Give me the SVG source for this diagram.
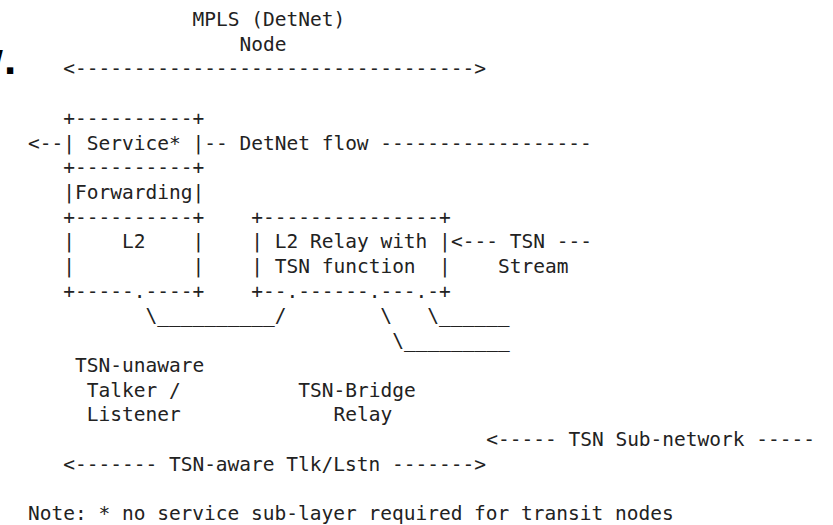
<svg xmlns="http://www.w3.org/2000/svg" width="833" height="525" viewBox="0 0 833 525" xml:space="preserve">
<style>
.t{font-family:"DejaVu Sans Mono","Liberation Mono",monospace;font-size:19.5px;fill:#222;white-space:pre}
.h{font-family:"Liberation Sans",Arial,sans-serif;font-size:44px;font-weight:bold;fill:#000}
</style>
<rect width="833" height="525" fill="#fff"/>
<text class="h" x="-31.5" y="74">w<tspan dx="3">.</tspan></text>
<g id="labels">
<text class="t" x="192.5" y="26">MPLS (DetNet)</text>
<text class="t" x="239.5" y="50.7">Node</text>
<text class="t" x="498" y="273">Stream</text>
<text class="t" x="75" y="371.8">TSN-unaware</text>
<text class="t" x="86.75" y="396.5">Talker /</text>
<text class="t" x="298.25" y="396.5">TSN-Bridge</text>
<text class="t" x="86.75" y="421.2">Listener</text>
<text class="t" x="333.5" y="421.2">Relay</text>
<text class="t" x="28" y="520">Note: * no service sub-layer required for transit nodes</text>
</g>
<g id="node-detnet-stack">
<text class="t" x="63.25" y="124.8">+----------+</text>
<text class="t" x="63.25" y="149.5">| Service* |</text>
<text class="t" x="63.25" y="174.2">+----------+</text>
<text class="t" x="63.25" y="198.9">|Forwarding|</text>
<text class="t" x="63.25" y="223.6">+----------+</text>
<text class="t" x="63.25" y="248.3">|    L2    |</text>
<text class="t" x="63.25" y="273">|          |</text>
<text class="t" x="63.25" y="297.7">+-----.----+</text>
</g>
<g id="node-tsn-relay">
<text class="t" x="251.25" y="223.6">+---------------+</text>
<text class="t" x="251.25" y="248.3">| L2 Relay with |</text>
<text class="t" x="251.25" y="273">| TSN function  |</text>
<text class="t" x="251.25" y="297.7">+--.------.---.-+</text>
</g>
<g id="connectors">
<text class="t" x="63.25" y="75.4">&lt;----------------------------------&gt;</text>
<text class="t" x="28" y="149.5">&lt;--</text>
<text class="t" x="204.25" y="149.5">-- DetNet flow ------------------</text>
<text class="t" x="451" y="248.3">&lt;--- TSN ---</text>
<text class="t" x="145.5" y="322.4">\__________/        \   \______</text>
<text class="t" x="392.25" y="347.1">\_________</text>
<text class="t" x="486.25" y="445.9">&lt;----- TSN Sub-network -----</text>
<text class="t" x="63.25" y="470.6">&lt;------- TSN-aware Tlk/Lstn -------&gt;</text>
</g>
</svg>
